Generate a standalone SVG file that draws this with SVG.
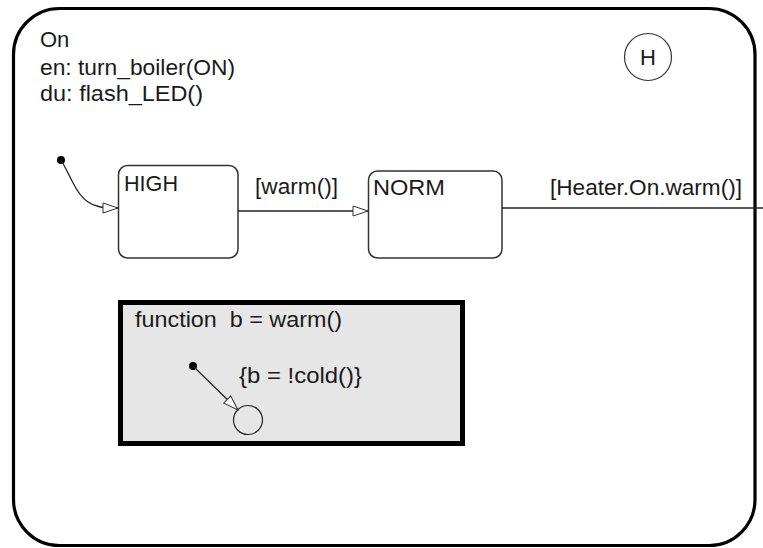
<svg xmlns="http://www.w3.org/2000/svg" width="763" height="548" viewBox="0 0 763 548">
  <defs>
    <marker id="open" markerUnits="userSpaceOnUse" markerWidth="17" markerHeight="12" refX="15" refY="5" orient="auto" overflow="visible">
      <path d="M0,0 L15,5 L0,10 Z" fill="#ffffff" stroke="#333333" stroke-width="1"/>
    </marker>
  </defs>
  <style>
    text { font-family: "Liberation Sans", Arial, sans-serif; font-size: 22px; fill: #1a1a1a; }
    .state { fill: #ffffff; stroke: #333333; stroke-width: 1.5; }
    .conn { fill: none; stroke: #222222; stroke-width: 1.3; }
    .dot { fill: #000000; }
  </style>
  <rect x="0" y="0" width="763" height="548" fill="#ffffff"/>

  <g id="On">
    <rect x="13.5" y="8.5" width="741.5" height="537" rx="46" ry="46" fill="#ffffff" stroke="#000000" stroke-width="3.2"/>
    <text x="40" y="47">On</text>
    <text x="40" y="75" textLength="195" lengthAdjust="spacingAndGlyphs">en: turn_boiler(ON)</text>
    <text x="40" y="101" textLength="163" lengthAdjust="spacingAndGlyphs">du: flash_LED()</text>
  </g>

  <g id="history">
    <circle cx="648" cy="57" r="23.5" fill="#ffffff" stroke="#333333" stroke-width="1.2"/>
    <text x="648" y="65" text-anchor="middle" font-size="21">H</text>
  </g>

  <g id="HIGH">
    <rect class="state" x="118.5" y="165.5" width="119.5" height="92.5" rx="9" ry="9"/>
    <text x="124" y="191" textLength="54" lengthAdjust="spacingAndGlyphs">HIGH</text>
  </g>

  <g id="NORM">
    <rect class="state" x="368.5" y="171" width="133.5" height="87" rx="9" ry="9"/>
    <text x="373" y="195" textLength="72" lengthAdjust="spacingAndGlyphs">NORM</text>
  </g>

  <g id="warm_function">
    <rect x="120.5" y="302.5" width="342" height="141" fill="#e6e6e6" stroke="#000000" stroke-width="5"/>
    <text x="135" y="327" textLength="207" lengthAdjust="spacingAndGlyphs" xml:space="preserve">function  b = warm()</text>
    <circle cx="248" cy="420" r="14.5" fill="none" stroke="#222222" stroke-width="1.2"/>
  </g>

  <g id="connectors">
    <circle class="dot" cx="61" cy="160" r="4"/>
    <path class="conn" d="M61,160 C70,175 76,194 88,202 C94,206 100,208 118,208" marker-end="url(#open)"/>
    <path class="conn" d="M238,211 L368,211" marker-end="url(#open)"/>
    <text x="255" y="194" textLength="83" lengthAdjust="spacingAndGlyphs">[warm()]</text>
    <path class="conn" d="M502,208 L763,208"/>
    <text x="550" y="195" textLength="192" lengthAdjust="spacingAndGlyphs">[Heater.On.warm()]</text>
    <circle class="dot" cx="193" cy="366" r="4"/>
    <path class="conn" d="M193,366 L238,410" marker-end="url(#open)"/>
    <text x="239" y="383" textLength="123" lengthAdjust="spacingAndGlyphs">{b = !cold()}</text>
  </g>
</svg>
